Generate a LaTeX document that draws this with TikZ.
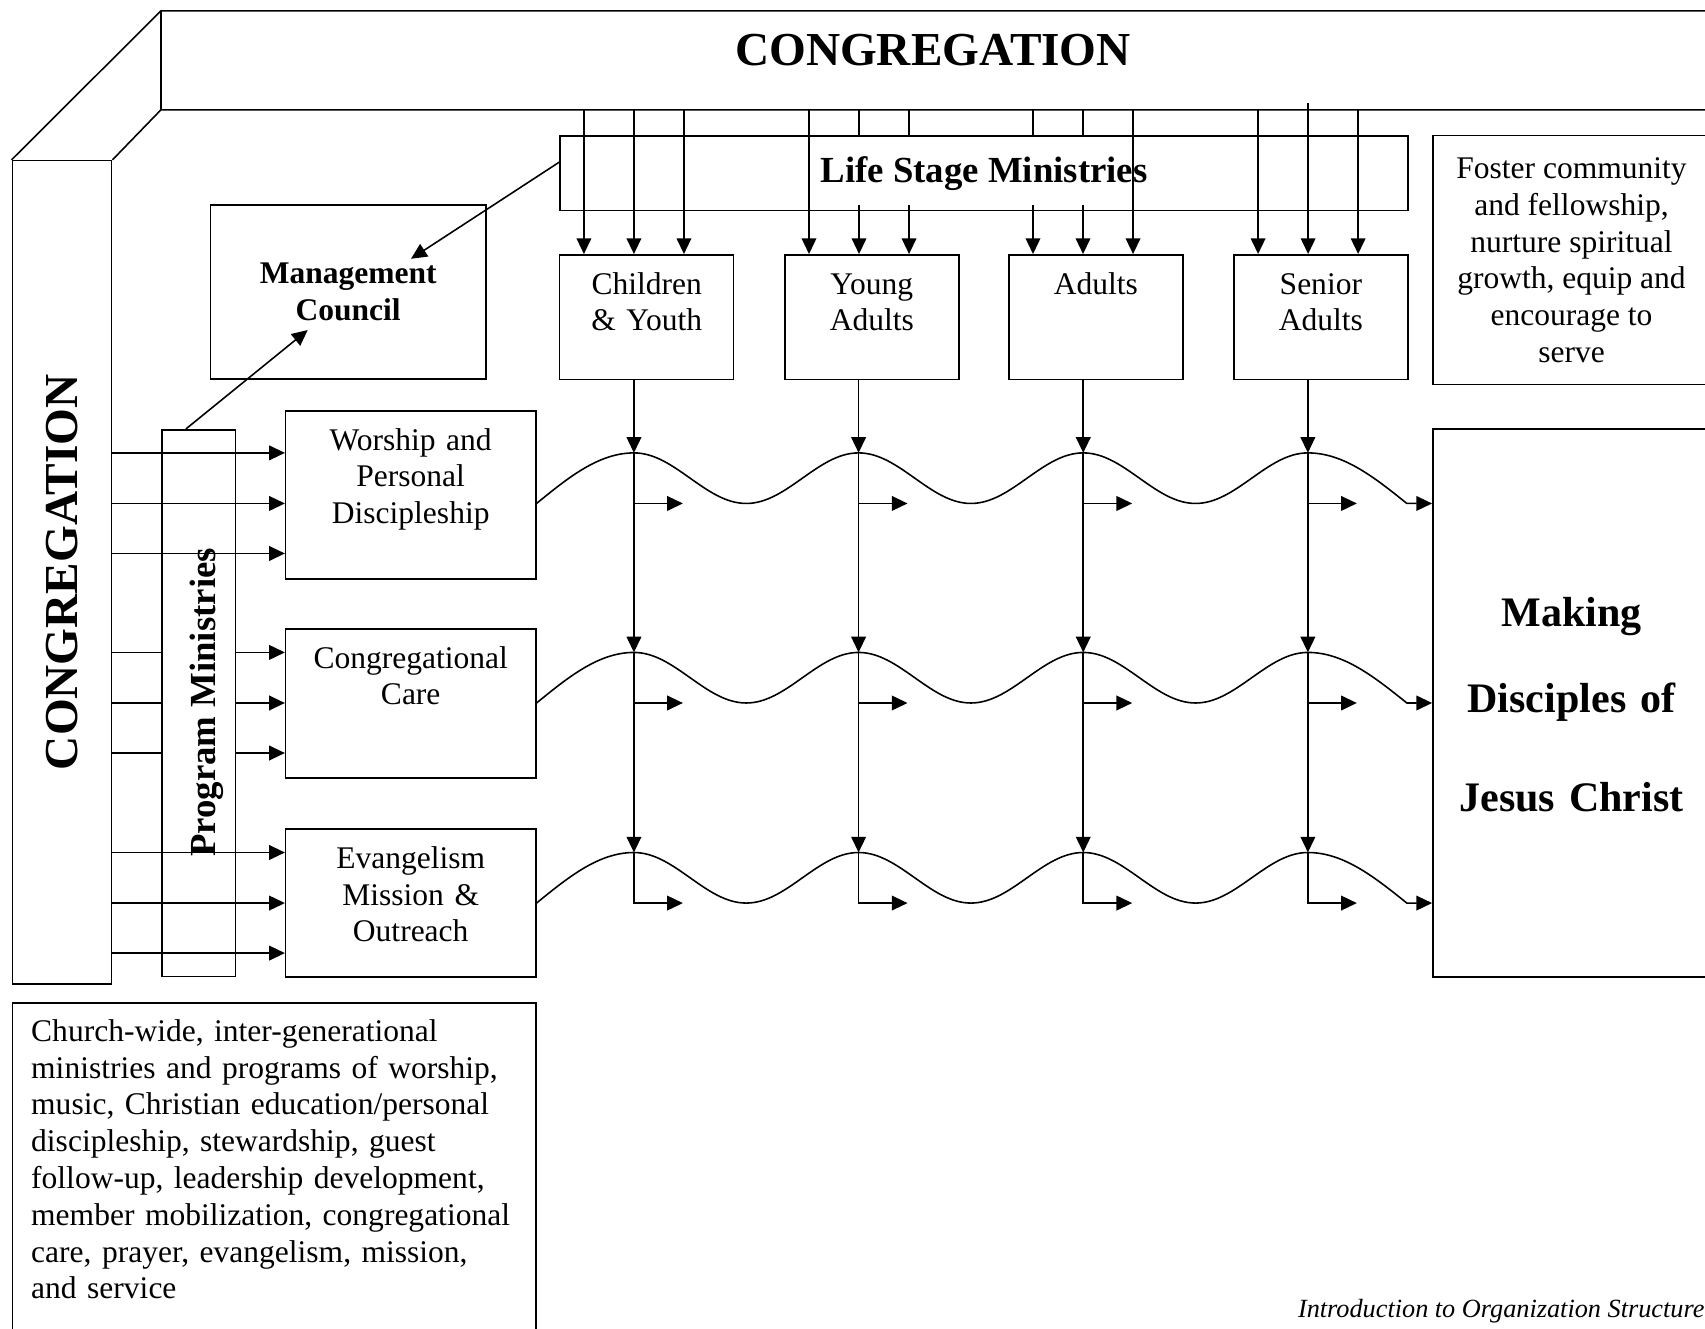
\documentclass[tikz,border=0pt]{standalone}
\usepackage{fontspec}
\setmainfont{Liberation Serif}
\usetikzlibrary{arrows.meta}

\begin{document}
\begin{tikzpicture}[x=0.414pt, y=-0.414pt, line width=0.6pt,
  every node/.style={inner sep=0pt, font=\fontsize{12}{14}\selectfont},
  frame/.style={draw, anchor=north west},
  stage/.style={frame, text width=66.24pt, align=center, text height=15pt, text depth=32.4pt},
  ministry/.style={frame, text width=95.22pt, align=center, text height=15pt},
  heading/.style={font=\bfseries\fontsize{18}{21}\selectfont},
  subheading/.style={font=\bfseries\fontsize{14}{16}\selectfont},
  arr/.style={-{Triangle[length=6pt, width=5.6pt]}}]
\useasboundingbox (0,0) rectangle (1568,1222);

\node[frame, minimum width=37.84pt, minimum height=313.4pt] (congcol) at (10.6,147) {};
\coordinate (bandtop) at (148,10);
\coordinate (band) at (148,101);
\draw (congcol.north west) -- (bandtop) -- (1600,10);
\draw (congcol.north east) -- (band) -- (1600,101);
\draw (bandtop) -- (band);
\node[heading] (congtop) at (858,46.5) {CONGREGATION};
\node[heading, rotate=90] (congside) at (congcol.center) {CONGREGATION};

\node[frame, subheading, minimum width=322.71pt, minimum height=28.36pt] (life) at (514.5,124.5) {Life Stage Ministries};
\node[stage] (child) at (514,233.6) {Children\\\& Youth};
\node[stage] (young) at (721,233.6) {Young\\Adults};
\node[stage] (adult) at (927,233.6) {Adults};
\node[stage] (senior) at (1134,233.6) {Senior\\Adults};
\node[frame, align=center, minimum width=105.57pt, minimum height=94.81pt] (foster) at (1317,124)
  {Foster community\\and fellowship,\\nurture spiritual\\growth, equip and\\encourage to\\serve};

\node[frame, align=center, minimum width=104.74pt, minimum height=66.24pt, font=\bfseries\fontsize{12}{14}\selectfont] (council) at (193,188) {Management\\Council};
\coordinate (councilA) at (378,238);
\coordinate (councilB) at (283,303.5);

\node[frame, minimum width=28.15pt, minimum height=208.24pt] (prog) at (148,394.5) {};
\node[subheading, rotate=90] (progtxt) at (190,646) {Program Ministries};
\node[ministry, text depth=48.96pt] (worship) at (262,377) {Worship and\\Personal\\Discipleship};
\node[ministry, text depth=41.72pt] (care) at (262,577.5) {Congregational\\Care};
\node[ministry, text depth=41.35pt] (evang) at (262,761.5) {Evangelism\\Mission \&\\Outreach};

\node[frame, text width=105.57pt, align=center, text height=75.14pt, text depth=133.5pt, font=\bfseries\fontsize{16}{32.8}\selectfont] (making) at (1317,394)
  {Making\\Disciples of\\[4.9pt]Jesus Christ};

\node[frame, text width=185pt, inner xsep=7.2pt, align=left, text height=14.66pt, text depth=115.1pt] (churchwide) at (10.6,921.6)
  {Church-wide, inter-generational\\ministries and programs of worship,\\music, Christian education/personal\\discipleship, stewardship, guest\\follow-up, leadership development,\\member mobilization, congregational\\care, prayer, evangelism, mission,\\and service};

\node[anchor=base west, font=\itshape\fontsize{10}{12}\selectfont] (footer) at (1193,1212) {Introduction to Organization Structure};

\draw[arr] (life.west |- 0,149) -- (councilA);
\draw[arr] ([xshift=9.5pt]prog.north west) -- (councilB);

\foreach \s/\x in {child/537, child/583, child/629, young/744, adult/1042, senior/1157, senior/1249}
  \draw[arr] (band -| \x,0) -- (\s.north -| \x,0);
\draw[arr] (band -| 1203,0) ++(0,-6) -- (senior.north -| 1203,0);
\foreach \s/\x in {young/790, young/836, adult/950, adult/996}{
  \draw (band -| \x,0) -- (life.north -| \x,0);
  \draw[arr] (life.south -| \x,0) ++(0,-5.5) -- (\s.north -| \x,0);
}

\foreach \s/\x in {child/583, young/789.6, adult/996.2, senior/1202.8}
  \foreach \c [count=\i] in {416.5,600,784}
    \coordinate (\s\i) at (\x,\c);

\foreach \s in {child,young,adult,senior}{
  \draw[arr] (\s.south -| \s1) -- (\s1);
  \draw[arr] (\s1) -- (\s2);
  \draw[arr] (\s2) -- (\s3);
  \draw[arr] (\s3) -- ++(0,46.5) -- ++(45,0);
  \draw[arr] (\s1) ++(0,46.5) -- ++(45,0);
  \draw[arr] (\s2) ++(0,46.5) -- ++(45,0);
}

\foreach \r/\c [count=\i] in {worship/416.5, care/600, evang/784}{
  \pgfmathsetmacro\t{\c+46.5}
  \draw[arr] (\r.east |- 0,\t) sin (child\i)
    \foreach \k in {1,2,3}{cos ++(51.65,23.25) sin ++(51.65,23.25) cos ++(51.65,-23.25) sin ++(51.65,-23.25)}
    cos ++(91,46.5) -- (making.west |- 0,\t);
}

\foreach \r/\c in {worship/416.5, evang/784}
  \foreach \d in {0,46.5,92.5}{
    \pgfmathsetmacro\y{\c+\d}
    \draw[arr] (congcol.east |- 0,\y) -- (\r.west |- 0,\y);
  }
\foreach \y in {600,646.5,692.5}{
  \draw (congcol.east |- 0,\y) -- (prog.west |- 0,\y);
  \draw[arr] (prog.east |- 0,\y) -- (care.west |- 0,\y);
}
\end{tikzpicture}
\end{document}
